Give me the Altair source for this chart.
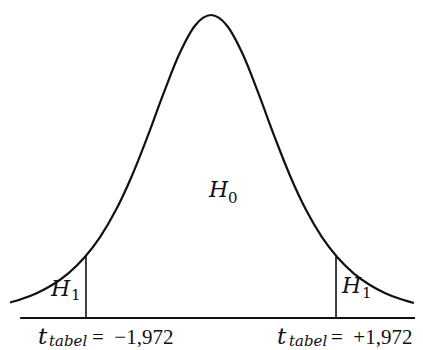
import altair as alt
import pandas as pd

# Curve (t value, relative density)
curve_t = [-3.17, -3.00, -2.75, -2.50, -2.25, -2.00, -1.75, -1.50, -1.25, -1.00,
           -0.75, -0.50, -0.25, 0.00, 0.25, 0.50, 0.75, 1.00, 1.25, 1.50,
           1.75, 2.00, 2.25, 2.50, 2.75, 3.00, 3.20]
curve_y = [0.0205, 0.0247, 0.0328, 0.0439, 0.0590, 0.0795, 0.1068, 0.1425, 0.1872, 0.2398,
           0.2961, 0.3484, 0.3862, 0.4000, 0.3862, 0.3484, 0.2961, 0.2398, 0.1872, 0.1425,
           0.1068, 0.0795, 0.0590, 0.0439, 0.0328, 0.0247, 0.0198]

# Critical values and the curve height where the rules stop
crit_t = [-1.972, 1.972]
crit_top = [0.0830, 0.0830]

# Baseline extent
base_from = [-3.01]
base_to = [3.218]

# Annotation text pieces
big_italic_text = ["H", "H", "H"]
big_italic_x = [-0.032, -2.524, 2.066]
big_italic_y = [0.1597, 0.0290, 0.0330]

sub_digit_text = ["0", "1", "1"]
sub_digit_x = [0.268, -2.208, 2.382]
sub_digit_y = [0.1518, 0.0238, 0.0264]

t_text = ["t", "t"]
t_x = [-2.729, 1.041]
t_y = [-0.0343, -0.0343]

sub_italic_text = ["tabel", "tabel"]
sub_italic_x = [-2.555, 1.230]
sub_italic_y = [-0.0370, -0.0370]

value_text = ["=\u2002\u22121,972", "=\u2002+1,972"]
value_x = [-1.877, 1.893]
value_y = [-0.0343, -0.0343]

xs = alt.Scale(domain=[-3.2019, 3.2177], nice=False, zero=False)
ys = alt.Scale(domain=[-0.042244, 0.409241], nice=False, zero=False)

curve_df = pd.DataFrame({"t": curve_t, "y": curve_y})
crit_df = pd.DataFrame({"t": crit_t, "top": crit_top, "bottom": [0.0, 0.0]})
base_df = pd.DataFrame({"x1": base_from, "x2": base_to, "y": [0.0]})

X = lambda f: alt.X(f, type="quantitative", scale=xs, axis=None)
Y = lambda f: alt.Y(f, type="quantitative", scale=ys, axis=None)

curve = alt.Chart(curve_df).mark_line(color="#111111", strokeWidth=2.2, interpolate="monotone").encode(
    x=X("t"), y=Y("y"))

rules = alt.Chart(crit_df).mark_rule(color="#111111", strokeWidth=1.6).encode(
    x=X("t"), y=Y("bottom"), y2="top")

baseline = alt.Chart(base_df).mark_rule(color="#111111", strokeWidth=1.8).encode(
    x=X("x1"), x2="x2", y=Y("y"))

def text_layer(texts, x, y, size, style, font):
    df = pd.DataFrame({"label": texts, "x": x, "y": y})
    return alt.Chart(df).mark_text(
        align="left", baseline="alphabetic", fontSize=size, fontStyle=style,
        font=font, color="#111111"
    ).encode(x=X("x"), y=Y("y"), text="label:N")

big = text_layer(big_italic_text, big_italic_x, big_italic_y, 22, "italic", "DejaVu Serif")
subd = text_layer(sub_digit_text, sub_digit_x, sub_digit_y, 15, "normal", "DejaVu Serif")
tt = text_layer(t_text, t_x, t_y, 23, "italic", "DejaVu Serif")
subi = text_layer(sub_italic_text, sub_italic_x, sub_italic_y, 15, "italic", "DejaVu Serif")
vals = text_layer(value_text, value_x, value_y, 21, "normal", "Liberation Serif")

chart = alt.layer(curve, rules, baseline, big, subd, tt, subi, vals).properties(
    width=407, height=342, padding=0, autosize=alt.AutoSizeParams(type="none")
).configure_view(stroke=None)

chart.save("out.html", embed_options={"renderer": "svg", "actions": False})
